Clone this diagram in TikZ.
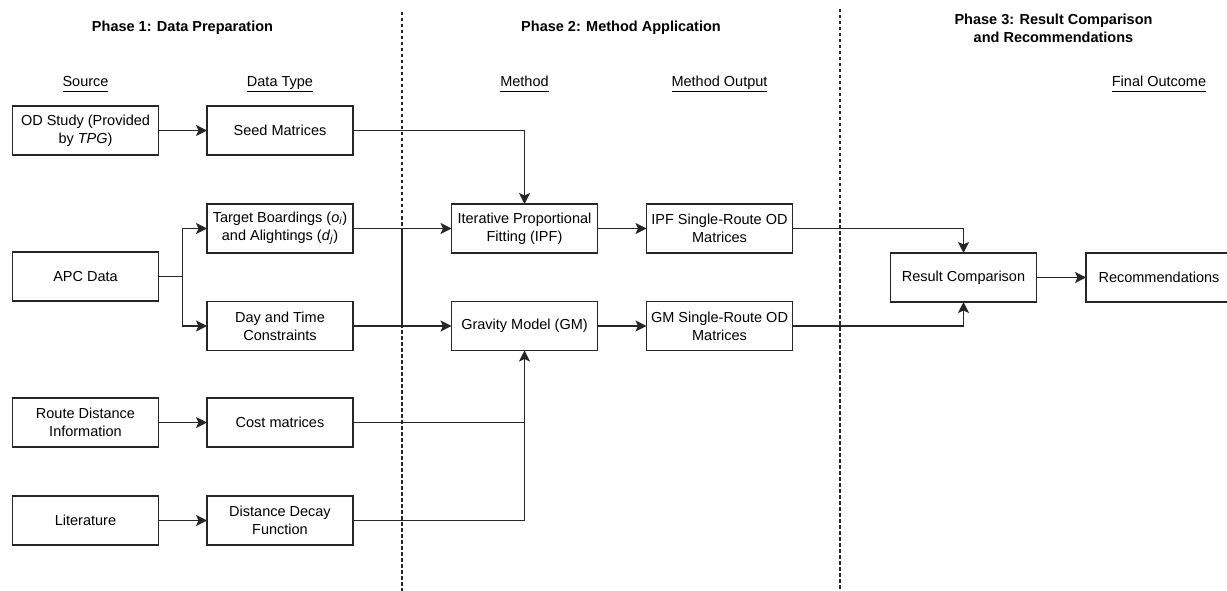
\documentclass[tikz,border=0pt]{standalone}
\usepackage{fontspec}
\setmainfont{Liberation Sans}
\usetikzlibrary{positioning, arrows.meta}
\newcommand{\colhead}[1]{\underline{\vphantom{Ty}#1}}

\begin{document}
\begin{tikzpicture}[x=1pt,y=-1pt,->,>={Stealth[length=11pt,width=11pt,inset=2.5pt]},
	line width=1.5pt,draw=black!85,node distance=48.5pt,
	font=\fontsize{14.5}{18}\selectfont]
	\tikzstyle{box}=[draw,-,rectangle,minimum width=146pt,minimum height=49pt,align=center,inner sep=2pt,outer sep=0pt]
	\tikzstyle{phase}=[align=center,font=\fontsize{14.5}{18}\selectfont\bfseries]
	\tikzstyle{column}=[font=\fontsize{14.5}{18}\selectfont]
	\tikzstyle{divider}=[-,line width=1.1pt,dash pattern=on 3.5pt off 2.5pt]
	\useasboundingbox (0,0) rectangle (1227,591);

	% phase headings
	\node[phase] (p1) at (182.5,28) {Phase 1: Data Preparation};
	\node[phase] (p2) at (621,28) {Phase 2: Method Application};
	\node[phase] (p3) at (1053.5,28.5) {Phase 3: Result Comparison\\and Recommendations};

	% phase dividers
	\coordinate (d1top) at (402,12);
	\coordinate (d1bot) at (402,591);
	\coordinate (d2top) at (840,9);
	\coordinate (d2bot) at (840,591);
	\draw[divider] (d1top) -- (d1bot);
	\draw[divider] (d2top) -- (d2bot);

	% phase 1
	\node[box] (od) at (85.5,130.5) {OD Study (Provided\\by \textit{TPG})};
	\node[box] (seed) [right=of od] {Seed Matrices};
	\node[box] (target) [below=49pt of seed] {Target Boardings (\textit{o}\textsubscript{\textit{i}})\\and Alightings (\textit{d}\textsubscript{\textit{j}})};
	\node[box] (day) [below=of target] {Day and Time\\Constraints};
	\node[box] (apc) [below=97pt of od] {APC Data};
	\node[box] (route) [below=97pt of apc] {Route Distance\\Information};
	\node[box] (cost) [right=of route] {Cost matrices};
	\node[box] (lit) [below=49pt of route] {Literature};
	\node[box] (decay) [right=of lit] {Distance Decay\\Function};

	% phase 2
	\node[box] (ipf) [right=98.5pt of target] {Iterative Proportional\\Fitting (IPF)};
	\node[box] (gm) [right=98.5pt of day] {Gravity Model (GM)};
	\node[box] (ipfout) [right=49pt of ipf] {IPF Single-Route OD\\Matrices};
	\node[box] (gmout) [right=49pt of gm] {GM Single-Route OD\\Matrices};

	% phase 3
	\node[box] (result) [right=98pt of ipfout, yshift=-49pt] {Result Comparison};
	\node[box] (recom) [right=49.5pt of result] {Recommendations};

	% column headings
	\node[column] (hsource) at (od |- 0,84) {\colhead{Source}};
	\node[column] (htype) at (seed |- 0,84) {\colhead{Data Type}};
	\node[column] (hmethod) at (ipf |- 0,84) {\colhead{Method}};
	\node[column] (houtput) at (ipfout |- 0,84) {\colhead{Method Output}};
	\node[column] (hfinal) at (recom |- 0,84) {\colhead{Final Outcome}};

	\coordinate[right=24pt of apc] (fork);

	\path
		(od)     edge (seed)
		(route)  edge (cost)
		(lit)    edge (decay)
		(target) edge (ipf)
		(day)    edge (gm)
		(ipf)    edge (ipfout)
		(gm)     edge (gmout)
		(result) edge (recom);
	\draw (seed) -| (ipf);
	\draw (apc) -- (fork) |- (target);
	\draw (fork) |- (day);
	\draw[-] (cost) -- (cost -| gm);
	\draw (decay) -| (gm);
	\draw (ipfout) -| (result);
	\draw (gmout) -| (result);
	\draw[-] (target -| d1top) -- (day -| d1top);
\end{tikzpicture}
\end{document}
